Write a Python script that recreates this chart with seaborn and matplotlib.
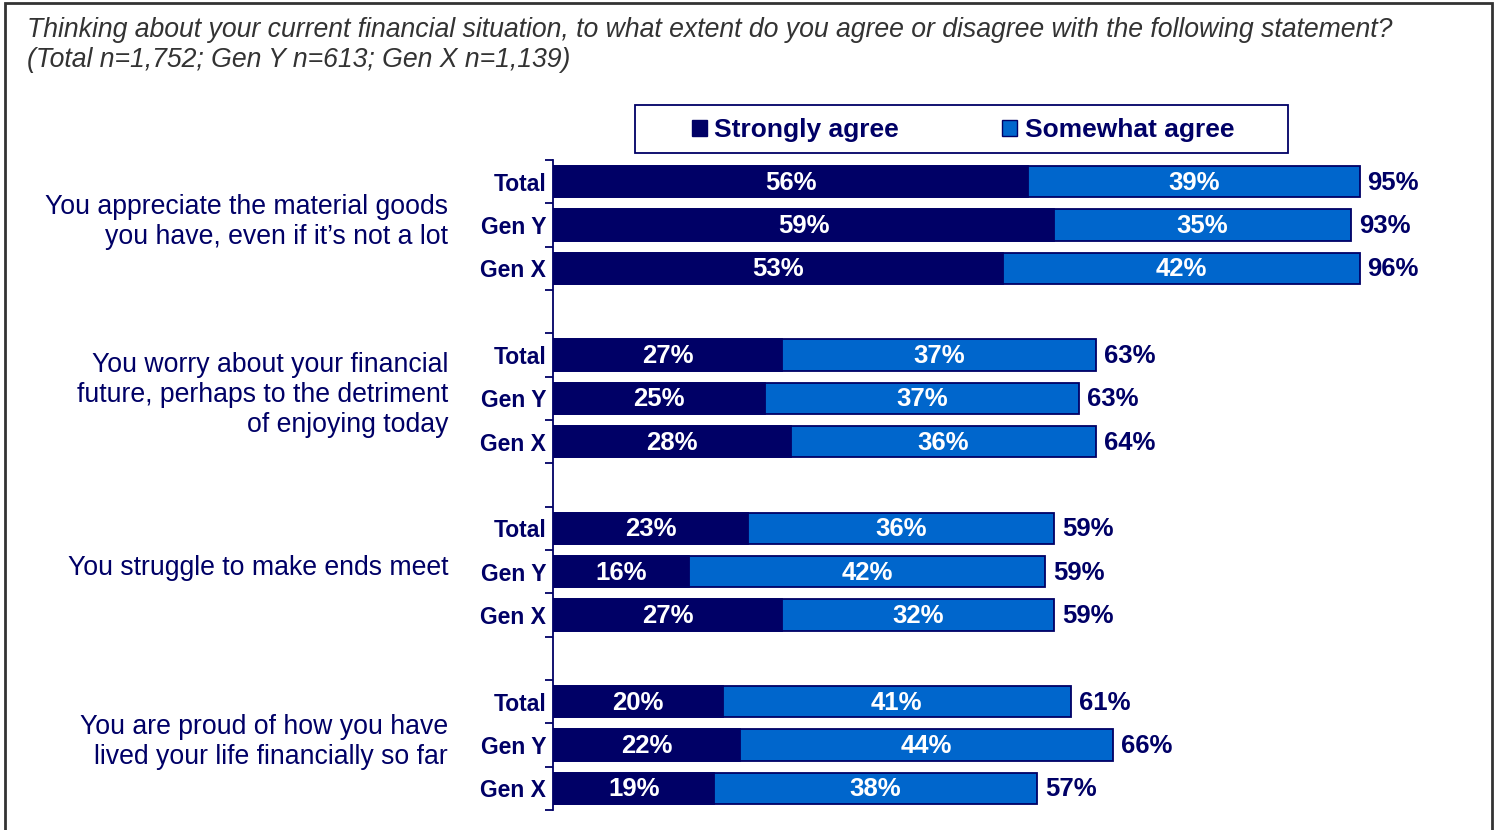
import numpy as np
import pandas as pd
import matplotlib
matplotlib.use("Agg")
import matplotlib.pyplot as plt
import seaborn as sns
from matplotlib.patches import Rectangle, Patch

# ---- data ---------------------------------------------------------------
statements = [
    "You appreciate the material goods\nyou have, even if it\u2019s not a lot",
    "You worry about your financial\nfuture, perhaps to the detriment\nof enjoying today",
    "You struggle to make ends meet",
    "You are proud of how you have\nlived your life financially so far",
]
segments = ["Total", "Gen Y", "Gen X"]
strongly_agree = [56, 59, 53, 27, 25, 28, 23, 16, 27, 20, 22, 19]
somewhat_agree = [39, 35, 42, 37, 37, 36, 36, 42, 32, 41, 44, 38]
net_agree = [95, 93, 96, 63, 63, 64, 59, 59, 59, 61, 66, 57]
series_names = ["Strongly agree", "Somewhat agree"]
title_lines = [
    "Thinking about your current financial situation, to what extent do you agree or disagree with the following statement?",
    "(Total n=1,752; Gen Y n=613; Gen X n=1,139)",
]

NAVY = "#000066"
BLUE = "#0066CC"
FRAME = "#333333"

# ---- table --------------------------------------------------------------
rows = []
order = []
for g in range(len(statements)):
    for s_i, seg in enumerate(segments):
        k = g * len(segments) + s_i
        key = f"{g}|{seg}"
        order.append(key)
        rows.append(dict(slot=key, segment=seg,
                         strong=strongly_agree[k],
                         stacked=strongly_agree[k] + somewhat_agree[k]))
    if g < len(statements) - 1:
        order.append(f"{g}|gap")
df = pd.DataFrame(rows)

# ---- figure -------------------------------------------------------------
W, H = 1499, 830
sns.set_theme(style="white")
plt.rcParams["font.family"] = ["Liberation Sans", "DejaVu Sans"]
fig = plt.figure(figsize=(W / 100, H / 100), dpi=100)

def fx(x):
    return x / W

def fy(y):
    return 1 - y / H

ax_left, ax_right, ax_top, ax_bot = 553, 553 + 8.49 * 100, 160, 810
ax = fig.add_axes([fx(ax_left), fy(ax_bot), fx(ax_right - ax_left), (ax_bot - ax_top) / H])

sns.barplot(data=df, y="slot", x="stacked", order=order, orient="h",
            color=BLUE, saturation=1, width=0.72, edgecolor=NAVY,
            linewidth=1.3, errorbar=None, ax=ax)
sns.barplot(data=df, y="slot", x="strong", order=order, orient="h",
            color=NAVY, saturation=1, width=0.72, edgecolor=NAVY,
            linewidth=1.3, errorbar=None, ax=ax)

ax.set_xlim(0, 100)
ax.set_ylim(len(order) - 0.5, -0.5)
ax.set_xlabel("")
ax.set_ylabel("")
ax.set_xticks([])

# tick marks on slot boundaries, segment names at bar centres
ax.set_yticks(np.arange(-0.5, len(order), 1.0))
ax.set_yticklabels([])
pos = {key: i for i, key in enumerate(order)}
centers = [pos[r] for r in df["slot"]]
ax.set_yticks(centers, minor=True)
ax.set_yticklabels(df["segment"], minor=True, fontsize=16.5, fontweight="bold", color=NAVY)
ax.tick_params(axis="y", which="major", length=6, width=1.3, color=NAVY, direction="out", left=True)
ax.tick_params(axis="y", which="minor", length=0, pad=5, left=True)
for side in ["top", "right", "bottom"]:
    ax.spines[side].set_visible(False)
ax.spines["left"].set_color(NAVY)
ax.spines["left"].set_linewidth(1.3)

# value labels
for i, row in df.iterrows():
    y = pos[row["slot"]] + 0.02
    st = strongly_agree[i]
    so = somewhat_agree[i]
    ax.text(st / 2, y, f"{st}%", ha="center", va="center", color="white",
            fontsize=18.5, fontweight="bold")
    ax.text(st + so / 2, y, f"{so}%", ha="center", va="center", color="white",
            fontsize=18.5, fontweight="bold")
    ax.text(st + so + 0.95, y, f"{net_agree[i]}%", ha="left", va="center",
            color=NAVY, fontsize=18.5, fontweight="bold")

# statement labels, centred on each group
trans = matplotlib.transforms.blended_transform_factory(fig.transFigure, ax.transData)
for g, text in enumerate(statements):
    mid = pos[f"{g}|Gen Y"]
    fig.text(fx(448), mid - 0.08, text, transform=trans, ha="right", va="center",
             multialignment="right", fontsize=19.2, color=NAVY, linespacing=1.2)

# title
fig.text(fx(27), fy(30), title_lines[0], ha="left", va="center",
         fontsize=19.2, style="italic", color="#333333")
fig.text(fx(27), fy(60), title_lines[1], ha="left", va="center",
         fontsize=19.2, style="italic", color="#333333")

# legend with its own frame
fig.patches.append(Rectangle((fx(635), fy(153)), fx(1288 - 635), (153 - 105) / H,
                             transform=fig.transFigure, fill=False,
                             edgecolor=NAVY, linewidth=1.3))
handles = [Patch(facecolor=NAVY, edgecolor=NAVY, label=series_names[0]),
           Patch(facecolor=BLUE, edgecolor=NAVY, label=series_names[1])]
fig.legend(handles=handles, loc="center", bbox_to_anchor=(fx(963), fy(130)),
           ncol=2, frameon=False, handlelength=0.55, handleheight=0.55,
           handletextpad=0.3, columnspacing=3.9,
           prop=dict(size=19, weight="bold"), labelcolor=NAVY)

# outer frame
fig.patches.append(Rectangle((fx(5), fy(H + 20)), fx(1492 - 5), (H + 20 - 3) / H,
                             transform=fig.transFigure, fill=False,
                             edgecolor=FRAME, linewidth=2))

fig.savefig("out.png", dpi=100)
